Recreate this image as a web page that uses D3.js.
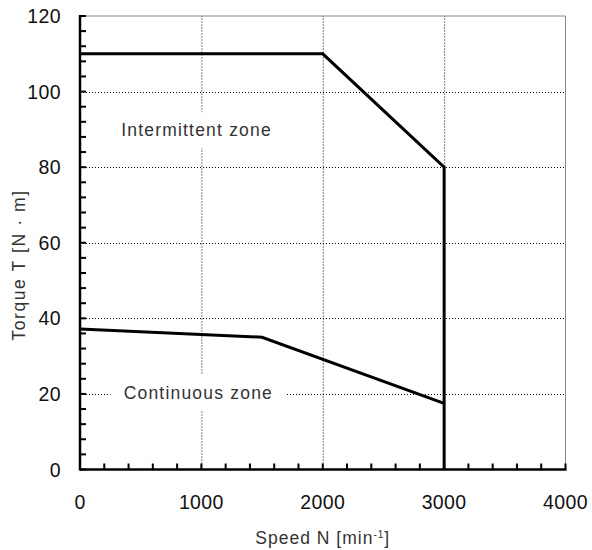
<!DOCTYPE html>
<html><head><meta charset="utf-8">
<script src="https://cdn.jsdelivr.net/npm/d3@7"></script>
<style>body{margin:0;background:#fff}svg{display:block}text{font-family:"Liberation Sans",Arial,sans-serif}</style>
</head><body><svg id="c" width="592" height="550"></svg>
<script>
const intermittentSpeed = [0, 2000, 3000, 3000];
const intermittentTorque = [110, 110, 80, 0];
const continuousSpeed = [0, 1500, 3000];
const continuousTorque = [37.2, 35, 17.5];
const xTicks = [0, 1000, 2000, 3000, 4000];
const yTicks = [0, 20, 40, 60, 80, 100, 120];
const zoneLabels = ["Intermittent zone", "Continuous zone"];
const zoneLabelPos = [[960, 89.8], [975, 20.3]];

const svg = d3.select("#c");
const x = d3.scaleLinear().domain([0, 4000]).range([80, 565.5]);
const y = d3.scaleLinear().domain([0, 120]).range([469.5, 16]);

// outer border (top/right grey)
svg.append("path").attr("d", `M${x(0)},${y(120)}H${x(4000)}V${y(0)}`)
  .attr("fill","none").attr("stroke","#888").attr("stroke-width",1);

// grid
const grid = svg.append("g").attr("stroke","#000").attr("stroke-width",1).attr("stroke-dasharray","1,2");
xTicks.filter(d=>d>0&&d<4000).forEach(d=>grid.append("line").attr("x1",x(d)+0.5).attr("x2",x(d)+0.5).attr("y1",y(0)).attr("y2",y(120)));
yTicks.filter(d=>d>0&&d<120).forEach(d=>grid.append("line").attr("y1",Math.round(y(d))+0.5).attr("y2",Math.round(y(d))+0.5).attr("x1",x(0)).attr("x2",x(4000)));

// zone labels with white background
zoneLabels.forEach((t,i)=>{
  const g = svg.append("g");
  const tx = g.append("text").attr("x", x(zoneLabelPos[i][0])).attr("y", y(zoneLabelPos[i][1])).attr("dy","0.35em")
    .attr("text-anchor","middle").attr("font-size",17.5).attr("fill","#333").attr("letter-spacing",1.2).text(t);
  const b = tx.node().getBBox();
  g.insert("rect","text").attr("x",b.x-13).attr("y",b.y-8).attr("width",b.width+26).attr("height",b.height+16).attr("fill","#fff");
});

// curves
const line = d3.line().x(d=>x(d[0])).y(d=>y(d[1]));
svg.append("path").datum(intermittentSpeed.map((s,i)=>[s,intermittentTorque[i]]))
  .attr("d",line).attr("fill","none").attr("stroke","#000").attr("stroke-width",3);
svg.append("path").datum(continuousSpeed.map((s,i)=>[s,continuousTorque[i]]))
  .attr("d",line).attr("fill","none").attr("stroke","#000").attr("stroke-width",3);

// axes
const ax = svg.append("g").attr("stroke","#000");
d3.range(0,4001,200).forEach(d=>ax.append("line").attr("x1",x(d)).attr("x2",x(d)).attr("y1",y(0)).attr("y2",y(0)-6).attr("stroke-width",2));
d3.range(0,121,4).forEach(d=>ax.append("line").attr("y1",y(d)).attr("y2",y(d)).attr("x1",x(0)).attr("x2",x(0)+6).attr("stroke-width",2));
ax.append("line").attr("x1",x(0)).attr("x2",x(4000)+1).attr("y1",y(0)).attr("y2",y(0)).attr("stroke-width",2.5);
ax.append("line").attr("x1",x(0)).attr("x2",x(0)).attr("y1",y(0)+1).attr("y2",y(120)-1).attr("stroke-width",2.5);

svg.append("g").selectAll("text").data(xTicks).join("text")
  .attr("x",d=>x(d)).attr("y",509).attr("text-anchor","middle").attr("font-size",19.5).attr("letter-spacing",0.4).attr("fill","#111").text(d=>d);
svg.append("g").selectAll("text").data(yTicks).join("text")
  .attr("x",61).attr("y",d=>y(d)).attr("dy","0.36em").attr("text-anchor","end").attr("font-size",19.5).attr("letter-spacing",0.4).attr("fill","#111").text(d=>d);

const xl = svg.append("text").attr("x",x(2000)).attr("y",544).attr("text-anchor","middle").attr("font-size",17.5).attr("letter-spacing",1).attr("fill","#333");
xl.append("tspan").text("Speed N [min");
xl.append("tspan").attr("dy",-6).attr("font-size",10).text("-1");
xl.append("tspan").attr("dy",6).text("]");
svg.append("text").attr("transform",`translate(25,265) rotate(-90)`).attr("text-anchor","middle")
  .attr("font-size",17.5).attr("letter-spacing",1.6).attr("fill","#333").text("Torque T [N · m]");
</script></body></html>
